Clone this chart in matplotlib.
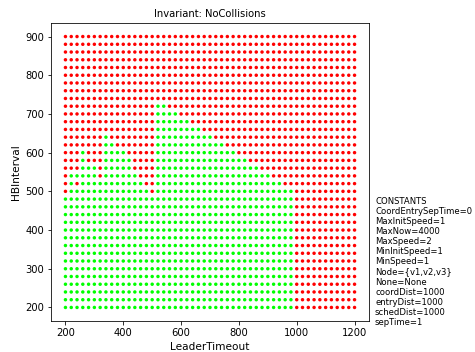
import numpy as np
import matplotlib
matplotlib.use("Agg")
import matplotlib.pyplot as plt

# Grid axes
leader_timeout = list(range(200, 1201, 20))   # 51 columns
hb_interval = list(range(200, 901, 20))       # 36 rows

# Outcome per row (G = invariant holds, R = violated), columns 200..1200 step 20
rows_top_down = {
    900: "R" * 51,
    880: "R" * 51,
    860: "R" * 51,
    840: "R" * 51,
    820: "R" * 51,
    800: "R" * 51,
    780: "R" * 51,
    760: "R" * 51,
    740: "R" * 51,
    720: "RRRRRRRRRRRRRRRR" + "GG" + "R" * 33,
    700: "RRRRRRRRRRRRRRRR" + "GGGG" + "R" * 31,
    680: "RRRRRRRRRRRRRRRR" + "GGGGGG" + "R" * 29,
    660: "RRRRRRRRRRRRRRRR" + "GGGGGGGG" + "R" * 27,
    640: "RRRRRRRGRRRRRRRR" + "GGGGGGGGGG" + "R" * 25,
    620: "RRRRRRRGGRRRRRRR" + "GGGGGGGGGGGG" + "R" * 23,
    600: "RRRGRRRGGGGRRRRR" + "GGGGGGGGGGGGGG" + "R" * 21,
    580: "RRRGRRRGGGGGRRRR" + "GGGGGGGGGGGGGGGG" + "R" * 19,
    560: "RRRGGGRGGGGGRRRR" + "GGGGGGGGGGGGGGGGGG" + "R" * 17,
    540: "RGGGGGRGGGGGGRRR" + "GGGGGGGGGGGGGGGGGGGG" + "R" * 15,
    520: "RGRGGGGGGGGGGGRR" + "GGGGGGGGGGGGGGGGGGGGGG" + "R" * 13,
    500: "RGGGGGGGGGGGGGGR" + "GGGGGGGGGGGGGGGGGGGGGGGG" + "R" * 11,
}
for y in range(200, 481, 20):
    rows_top_down[y] = "G" * 40 + "R" * 11

xs, ys, cs = [], [], []
for y in hb_interval:
    row = rows_top_down[y]
    for i, x in enumerate(leader_timeout):
        xs.append(x)
        ys.append(y)
        cs.append("#00ff00" if row[i] == "G" else "#ff0000")

constants = [
    "CONSTANTS",
    "CoordEntrySepTime=0",
    "MaxInitSpeed=1",
    "MaxNow=4000",
    "MaxSpeed=2",
    "MinInitSpeed=1",
    "MinSpeed=1",
    "Node={v1,v2,v3}",
    "None=None",
    "coordDist=1000",
    "entryDist=1000",
    "schedDist=1000",
    "sepTime=1",
]

fig = plt.figure(figsize=(475 / 72, 352 / 72), dpi=72)
ax = fig.add_axes([51 / 475, 1 - 321 / 352, (369 - 51) / 475, (321 - 23) / 352])
ax.scatter(xs, ys, c=cs, s=12, linewidths=0)
ax.set_title("Invariant: NoCollisions", fontsize=10)
ax.set_xlabel("LeaderTimeout", fontsize=10.5)
ax.set_ylabel("HBInterval", fontsize=10.5)
ax.tick_params(labelsize=10)
fig.text(375 / 475, 1 - 327 / 352, "\n".join(constants), fontsize=8.5,
         va="bottom", ha="left", linespacing=1.16)
fig.savefig("out.png", dpi=72)
